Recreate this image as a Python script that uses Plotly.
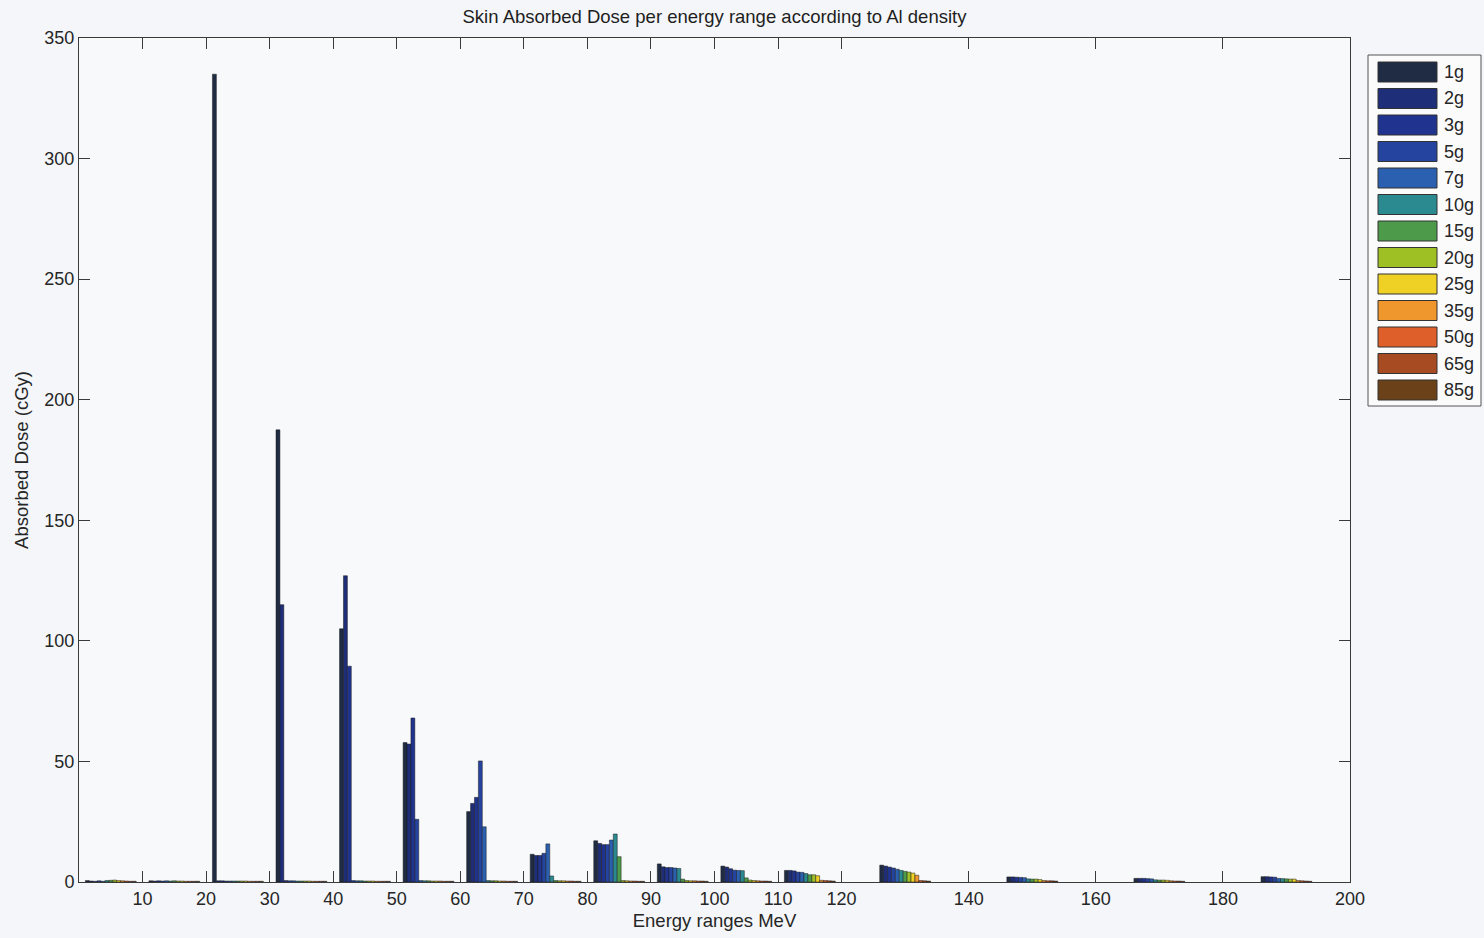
import plotly.graph_objects as go

# Energy range midpoints (MeV) used as bar group positions
energy_mid = [5, 15, 25, 35, 45, 55, 65, 75, 85, 95, 105, 115, 130, 150, 170, 190]

# Skin absorbed dose (cGy) per energy range, one list per Al density
dose_1g = [0.6, 0.5, 335, 187.5, 105, 57.8, 29.2, 11.5, 17.1, 7.5, 6.6, 4.8, 7.0, 2.1, 1.5, 2.2]
dose_2g = [0.4, 0.4, 0.5, 115, 127, 57.2, 32.6, 11.0, 16.0, 6.3, 6.2, 4.8, 6.6, 2.1, 1.5, 2.2]
dose_3g = [0.3, 0.5, 0.5, 0.6, 89.5, 68, 35.1, 11.0, 15.5, 6.0, 5.5, 4.6, 6.2, 2.0, 1.5, 2.1]
dose_5g = [0.5, 0.4, 0.4, 0.5, 0.6, 26, 50.2, 11.9, 15.5, 6.0, 4.9, 4.1, 5.8, 1.9, 1.4, 2.0]
dose_7g = [0.3, 0.5, 0.4, 0.5, 0.5, 0.6, 22.9, 15.8, 17.4, 5.8, 4.8, 4.0, 5.3, 1.8, 1.3, 1.5]
dose_10g = [0.6, 0.4, 0.4, 0.4, 0.5, 0.5, 0.6, 2.5, 19.9, 5.6, 4.7, 3.5, 4.8, 1.3, 0.9, 1.4]
dose_15g = [0.7, 0.5, 0.4, 0.4, 0.4, 0.5, 0.5, 0.6, 10.5, 1.2, 1.7, 3.0, 4.4, 1.2, 0.8, 1.3]
dose_20g = [0.8, 0.4, 0.4, 0.4, 0.4, 0.4, 0.5, 0.5, 0.6, 0.6, 0.8, 3.0, 4.1, 1.2, 0.8, 1.2]
dose_25g = [0.6, 0.4, 0.4, 0.4, 0.4, 0.4, 0.4, 0.5, 0.5, 0.5, 0.6, 2.6, 3.7, 1.0, 0.7, 1.2]
dose_35g = [0.5, 0.3, 0.3, 0.3, 0.3, 0.4, 0.4, 0.4, 0.4, 0.5, 0.5, 0.7, 2.8, 0.6, 0.5, 0.6]
dose_50g = [0.4, 0.3, 0.3, 0.3, 0.3, 0.3, 0.3, 0.4, 0.4, 0.4, 0.4, 0.6, 0.6, 0.5, 0.4, 0.5]
dose_65g = [0.3, 0.3, 0.3, 0.3, 0.3, 0.3, 0.3, 0.3, 0.3, 0.4, 0.4, 0.5, 0.5, 0.5, 0.4, 0.4]
dose_85g = [0.3, 0.3, 0.3, 0.3, 0.3, 0.3, 0.3, 0.3, 0.3, 0.3, 0.3, 0.4, 0.4, 0.4, 0.3, 0.3]

densities = ["1g", "2g", "3g", "5g", "7g", "10g", "15g", "20g", "25g", "35g", "50g", "65g", "85g"]
series = [dose_1g, dose_2g, dose_3g, dose_5g, dose_7g, dose_10g, dose_15g,
          dose_20g, dose_25g, dose_35g, dose_50g, dose_65g, dose_85g]
colors = ["#1f2c44", "#1f2e78", "#1f338f", "#2544a0", "#2b60b0", "#2b8a90", "#4d9b4a",
          "#9fc025", "#efd024", "#ef962c", "#df5f2a", "#a74b22", "#6b4119"]

x_ticks = [10, 20, 30, 40, 50, 60, 70, 80, 90, 100, 110, 120, 140, 160, 180, 200]
y_ticks = [0, 50, 100, 150, 200, 250, 300, 350]

W, H = 1484, 938
L, R, T, B = 79, 134, 38, 56
FONT = "Liberation Sans, Arial, Helvetica, sans-serif"
TXT = "#262626"

fig = go.Figure()
for name, vals, col in zip(densities, series, colors):
    fig.add_trace(go.Bar(
        x=energy_mid, y=vals, name=name,
        marker=dict(color=col, line=dict(color="#1a1a1a", width=0.5)),
        showlegend=False,
    ))

axis_common = dict(
    showline=True, linecolor="#3a3a3a", linewidth=1, mirror="ticks",
    ticks="inside", ticklen=11, tickcolor="#3a3a3a", tickwidth=1,
    showgrid=False, zeroline=False,
    tickfont=dict(family=FONT, size=18, color=TXT),
)

fig.update_layout(
    width=W, height=H,
    margin=dict(l=L, r=R, t=T, b=B, autoexpand=False),
    paper_bgcolor="#f4f6f9", plot_bgcolor="#f8f9fb",
    barmode="group", bargap=0.2, bargroupgap=0,
    xaxis=dict(range=[0, 200], tickmode="array", tickvals=x_ticks,
               title=dict(text="Energy ranges MeV", standoff=6,
                          font=dict(family=FONT, size=18.5, color=TXT)),
               **axis_common),
    yaxis=dict(range=[0, 350], tickmode="array", tickvals=y_ticks,
               title=dict(text="Absorbed Dose (cGy)", standoff=10,
                          font=dict(family=FONT, size=18.5, color=TXT)),
               **axis_common),
    title=dict(text="Skin Absorbed Dose per energy range according to Al density",
               x=0.5, xref="paper", xanchor="center", y=1 - 17 / H, yanchor="middle",
               font=dict(family=FONT, size=18.5, color="#1e1e1e")),
)

# Legend box drawn in paper coordinates, laid out in pixels
pw, ph = W - L - R, H - T - B


def px_x(px):
    return (px - L) / pw


def px_y(py):
    return (H - B - py) / ph


fig.add_shape(type="rect", xref="paper", yref="paper",
              x0=px_x(1368), x1=px_x(1481), y0=px_y(406), y1=px_y(55),
              line=dict(color="#555555", width=1), fillcolor="#fbfbfc", layer="above")
for k, (name, col) in enumerate(zip(densities, colors)):
    cy = 72 + k * 26.5
    fig.add_shape(type="rect", xref="paper", yref="paper",
                  x0=px_x(1378), x1=px_x(1437), y0=px_y(cy + 10), y1=px_y(cy - 10),
                  line=dict(color="#333333", width=1), fillcolor=col, layer="above")
    fig.add_annotation(xref="paper", yref="paper", x=px_x(1442), y=px_y(cy),
                       text=name, showarrow=False, xanchor="left", yanchor="middle",
                       font=dict(family=FONT, size=18, color=TXT))

fig.write_html("out.html")
